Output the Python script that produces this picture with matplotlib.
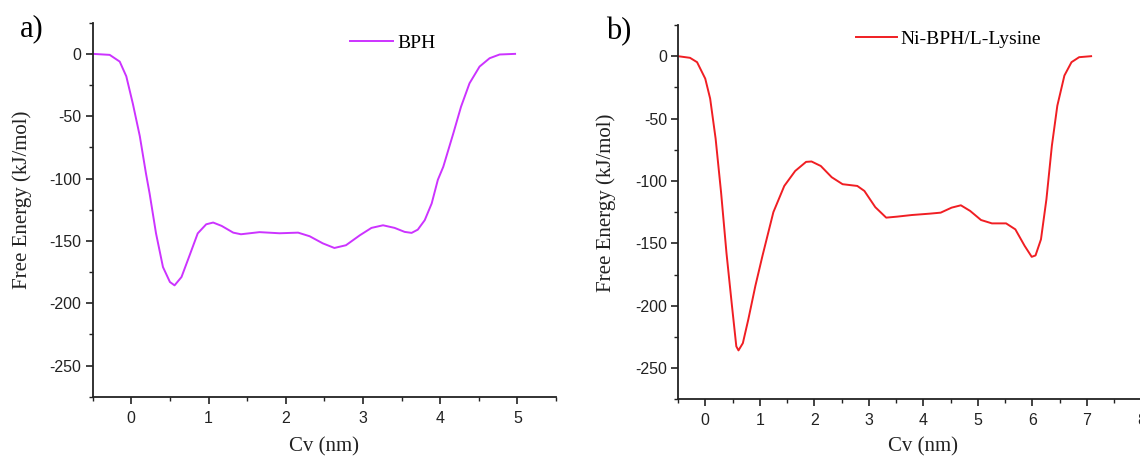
import matplotlib
matplotlib.use("Agg")
import matplotlib.pyplot as plt
from matplotlib.ticker import MultipleLocator

plt.rcParams["axes.unicode_minus"] = False

# Panel a: BPH
cv_a = [-0.5, -0.28, -0.15, -0.065, 0.02, 0.11, 0.19, 0.237, 0.32, 0.41, 0.50, 0.56,
        0.65, 0.755, 0.86, 0.97, 1.06, 1.17, 1.32, 1.42, 1.66, 1.92, 2.16, 2.31, 2.48,
        2.63, 2.78, 2.96, 3.11, 3.26, 3.41, 3.54, 3.63, 3.71, 3.80, 3.89, 3.97, 4.04,
        4.17, 4.27, 4.38, 4.51, 4.64, 4.77, 4.97]
fe_a = [0, -0.8, -6.2, -18, -40, -66, -96, -112, -144, -171, -183, -185.7,
        -179, -161.6, -144, -136.7, -135.3, -138, -143.4, -144.7, -143, -143.9, -143.4, -146.3, -152,
        -155.7, -153.5, -145.5, -139.6, -137.5, -139.6, -142.8, -143.6, -141, -133.4, -120, -101, -90.6,
        -63.8, -42.4, -23.6, -10.2, -3.5, -0.5, 0]

# Panel b: Ni-BPH/L-Lysine
cv_b = [-0.5, -0.28, -0.15, 0.0, 0.09, 0.19, 0.29, 0.39, 0.49, 0.57, 0.61, 0.69,
        0.79, 0.92, 1.05, 1.25, 1.45, 1.65, 1.85, 1.95, 2.12, 2.32, 2.52, 2.79, 2.92,
        3.12, 3.32, 3.52, 3.79, 4.12, 4.32, 4.52, 4.69, 4.86, 5.06, 5.26, 5.52, 5.69,
        5.86, 5.99, 6.06, 6.16, 6.26, 6.36, 6.46, 6.59, 6.72, 6.86, 7.08]
fe_b = [0, -1.3, -4.8, -18, -34, -66, -109, -158, -200, -232.6, -235.8, -230,
        -211, -184, -160, -125, -104, -92, -84.7, -84.4, -88, -97, -102.6, -104, -108,
        -121, -129.4, -128.6, -127.3, -126.2, -125.4, -121.4, -119.5, -124, -131.3, -134, -134, -138.8,
        -152, -160.8, -159.7, -146.8, -114.7, -71.8, -39.7, -15.5, -4.8, -0.8, 0]

label_a = "BPH"
label_b = "Ni-BPH/L-Lysine"
xlabel = "Cv (nm)"
ylabel = "Free Energy (kJ/mol)"

serif = "Liberation Serif"
sans = "Liberation Sans"
ink = "#222222"

fig = plt.figure(figsize=(11.4, 4.57), dpi=100)
W, H = 1140, 457

def px_axes(l, t, r, b):
    return fig.add_axes([l / W, 1 - b / H, (r - l) / W, (b - t) / H])

A = (92.7, 22.7, 556, 396.7)
B = (678, 25, 678 + 9 * 54.5, 399.3)
ax_a = px_axes(*A)
ax_b = px_axes(*B)

def style(ax, xmax, box, ylab_px):
    l, t, r, b = box
    ax.set_xlim(-0.5, xmax)
    ax.set_ylim(-275, 25)
    ax.spines["top"].set_visible(False)
    ax.spines["right"].set_visible(False)
    for s in ("left", "bottom"):
        ax.spines[s].set_linewidth(1.3)
        ax.spines[s].set_color(ink)
    ax.xaxis.set_major_locator(MultipleLocator(1))
    ax.xaxis.set_minor_locator(MultipleLocator(0.5))
    ax.yaxis.set_major_locator(MultipleLocator(50))
    ax.yaxis.set_minor_locator(MultipleLocator(25))
    ax.tick_params(which="major", direction="out", length=5, width=1.2, labelsize=11.5,
                   colors=ink)
    ax.tick_params(axis="x", which="major", pad=5)
    ax.tick_params(axis="y", which="major", pad=3)
    ax.tick_params(which="minor", direction="out", length=3, width=1.0, colors=ink)
    for tl in ax.get_xticklabels() + ax.get_yticklabels():
        tl.set_fontfamily(sans)
    ax.set_xlabel(xlabel, fontfamily=serif, fontsize=15, color=ink)
    ax.set_ylabel(ylabel, fontfamily=serif, fontsize=15, color=ink)
    ax.xaxis.set_label_coords(0.5, (b - 447) / (b - t))
    ax.xaxis.label.set_va("center")
    ax.yaxis.set_label_coords((ylab_px[0] - l) / (r - l), (b - ylab_px[1]) / (b - t))
    ax.yaxis.label.set_va("center")

ax_a.plot(cv_a, fe_a, color="#CC33FF", lw=1.4, label=label_a)
ax_b.plot(cv_b, fe_b, color="#F01E23", lw=1.4, label=label_b)
style(ax_a, 5.5, A, (22, 200))
style(ax_b, 8.5, B, (606, 203))

ax_a.legend(loc="center left", bbox_to_anchor=((350 - A[0]) / (A[2] - A[0]), 1 - (43.3 - A[1]) / (A[3] - A[1])),
            frameon=False, prop={"family": serif, "size": 14}, handlelength=2.2,
            handletextpad=0.25, borderaxespad=0, borderpad=0)
ax_b.legend(loc="center left", bbox_to_anchor=((856 - B[0]) / (B[2] - B[0]), 1 - (39.3 - B[1]) / (B[3] - B[1])),
            frameon=False, prop={"family": serif, "size": 14}, handlelength=2.1,
            handletextpad=0.2, borderaxespad=0, borderpad=0)

fig.text(20 / W, 1 - 29 / H, "a)", fontfamily=serif, fontsize=22, va="center", ha="left")
fig.text(606 / W, 1 - 32 / H, "b)", fontfamily=serif, fontsize=22, va="center", ha="left")

fig.savefig("out.png", dpi=100)
